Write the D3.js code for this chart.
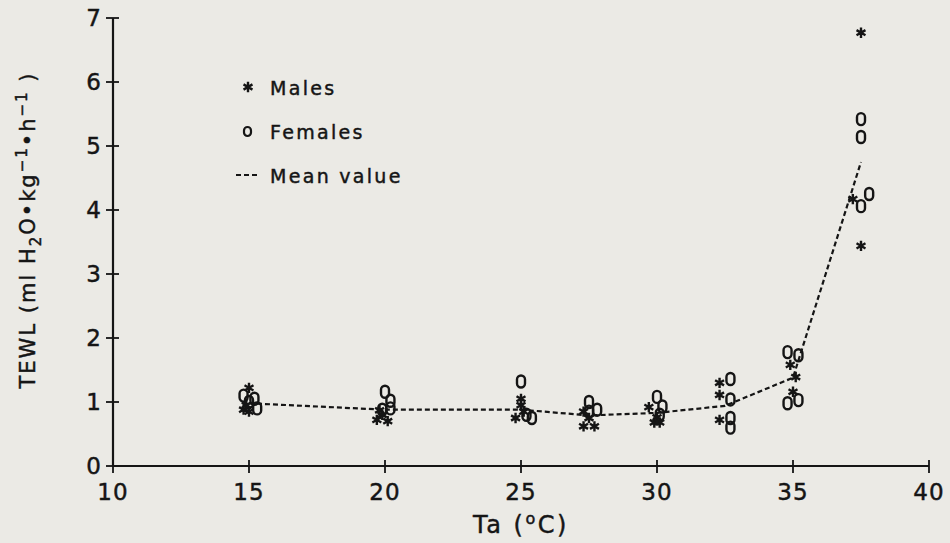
<!DOCTYPE html>
<html>
<head>
<meta charset="utf-8">
<script src="https://cdn.jsdelivr.net/npm/d3@7"></script>
<style>
  html, body { margin: 0; padding: 0; background: #ebeae5; }
  svg { display: block; }
  text { font-family: "DejaVu Sans", "Liberation Sans", sans-serif; fill: #151515; stroke: #151515; stroke-width: 0.45px; }
</style>
</head>
<body>
<svg id="chart" width="950" height="543"></svg>
<script>
// Ambient temperature (°C) and TEWL readings for each animal
const maleTa   = [15.0, 14.8, 15.0, 14.9, 19.8, 19.7, 20.1, 19.9, 25.0, 24.8, 25.0, 25.1,
                  27.3, 27.3, 27.7, 27.5, 29.7, 29.9, 30.1, 30.0, 32.3, 32.3, 32.3,
                  34.9, 35.1, 35.0, 37.5, 37.2, 37.5];
const maleTewl = [1.22, 0.88, 0.85, 0.95, 0.87, 0.72, 0.70, 0.80, 1.05, 0.75, 0.95, 0.85,
                  0.85, 0.62, 0.62, 0.75, 0.92, 0.68, 0.68, 0.76, 1.30, 1.11, 0.72,
                  1.58, 1.39, 1.16, 6.77, 4.17, 3.44];

const femaleTa   = [14.8, 15.0, 15.2, 15.3, 20.0, 20.2, 19.9, 20.2, 25.0, 25.2, 25.4,
                    27.5, 27.8, 27.5, 30.0, 30.2, 30.1, 32.7, 32.7, 32.7, 32.7,
                    34.8, 35.2, 34.8, 35.2, 37.5, 37.5, 37.8, 37.5];
const femaleTewl = [1.10, 1.00, 1.05, 0.90, 1.16, 1.02, 0.88, 0.90, 1.32, 0.80, 0.75,
                    1.00, 0.88, 0.85, 1.08, 0.93, 0.80, 1.36, 1.04, 0.75, 0.60,
                    1.78, 1.73, 0.98, 1.03, 5.42, 5.14, 4.25, 4.06];

// Mean value at each test temperature
const meanTa   = [15, 20, 25, 27.5, 30, 32.5, 35, 37.5];
const meanTewl = [0.98, 0.88, 0.88, 0.79, 0.83, 0.94, 1.38, 4.75];

const xTicks = [10, 15, 20, 25, 30, 35, 40];
const yTicks = [0, 1, 2, 3, 4, 5, 6, 7];

const svg = d3.select("#chart");
const x = d3.scaleLinear().domain([10, 40]).range([113, 929]);
const y = d3.scaleLinear().domain([0, 7]).range([466, 18]);
const ink = "#151515";

// Axes: ticks cross the axis line on both sides
const xAxis = svg.append("g").attr("transform", `translate(0,${y(0)})`);
xAxis.append("line").attr("x1", x(10)).attr("x2", x(40)).attr("stroke", ink).attr("stroke-width", 2.2);
xAxis.selectAll("line.tick").data(xTicks).join("line").attr("class", "tick")
  .attr("x1", d => x(d)).attr("x2", d => x(d)).attr("y1", -6).attr("y2", 7)
  .attr("stroke", ink).attr("stroke-width", 1.8);
xAxis.selectAll("text").data(xTicks).join("text")
  .attr("x", d => x(d)).attr("y", 34).attr("text-anchor", "middle")
  .attr("font-size", 23).attr("letter-spacing", 1).text(d => d);

const yAxis = svg.append("g").attr("transform", `translate(${x(10)},0)`);
yAxis.append("line").attr("y1", y(0)).attr("y2", y(7)).attr("stroke", ink).attr("stroke-width", 2.2);
yAxis.selectAll("line.tick").data(yTicks).join("line").attr("class", "tick")
  .attr("y1", d => y(d)).attr("y2", d => y(d)).attr("x1", -7).attr("x2", 6)
  .attr("stroke", ink).attr("stroke-width", 1.8);
yAxis.selectAll("text").data(yTicks).join("text")
  .attr("x", -12).attr("y", d => y(d) + 8).attr("text-anchor", "end")
  .attr("font-size", 23).text(d => d);

// Axis titles
const xt = svg.append("text").attr("x", 521).attr("y", 533).attr("text-anchor", "middle")
  .attr("font-size", 24).attr("letter-spacing", 2.5);
xt.append("tspan").text("Ta (");
xt.append("tspan").attr("font-size", 16).attr("dy", -9).text("o");
xt.append("tspan").attr("dy", 9).text("C)");

const yt = svg.append("text").attr("transform", "translate(35,230) rotate(-90)")
  .attr("text-anchor", "middle").attr("font-size", 21).attr("letter-spacing", 2);
yt.append("tspan").text("TEWL (ml H");
yt.append("tspan").attr("font-size", 15).attr("dy", 6).text("2");
yt.append("tspan").attr("dy", -6).text("O\u2022kg");
yt.append("tspan").attr("font-size", 15).attr("dy", -8).text("\u22121");
yt.append("tspan").attr("dy", 8).text("\u2022h");
yt.append("tspan").attr("font-size", 15).attr("dy", -8).text("\u22121");
yt.append("tspan").attr("dy", 8).text(" )");

// Mean value line
const line = d3.line().x(d => x(d[0])).y(d => y(d[1]));
svg.append("path").datum(d3.zip(meanTa, meanTewl)).attr("d", line)
  .attr("fill", "none").attr("stroke", ink).attr("stroke-width", 2.2)
  .attr("stroke-dasharray", "5,3");

// Marker makers
const star = d3.symbol().type(d3.symbolAsterisk).size(75);
function drawStar(g, cx, cy) {
  g.append("path").attr("d", star()).attr("transform", `translate(${cx},${cy})`)
    .attr("fill", "none").attr("stroke", ink).attr("stroke-width", 2.4);
}
function drawOval(g, cx, cy) {
  g.append("rect").attr("x", cx - 4).attr("y", cy - 6).attr("width", 8).attr("height", 12)
    .attr("rx", 4).attr("ry", 4).attr("fill", "none").attr("stroke", ink).attr("stroke-width", 2.4);
}

const pts = svg.append("g");
d3.zip(femaleTa, femaleTewl).forEach(d => drawOval(pts, x(d[0]), y(d[1])));
d3.zip(maleTa, maleTewl).forEach(d => drawStar(pts, x(d[0]), y(d[1])));

// Legend
const lg = svg.append("g");
drawStar(lg, 248, 87);
lg.append("text").attr("x", 270).attr("y", 95).attr("font-size", 19).attr("letter-spacing", 2.3).text("Males");
lg.append("rect").attr("x", 244).attr("y", 127).attr("width", 7).attr("height", 9)
  .attr("rx", 3.5).attr("fill", "none").attr("stroke", ink).attr("stroke-width", 2.2);
lg.append("text").attr("x", 270).attr("y", 139).attr("font-size", 19).attr("letter-spacing", 2.3).text("Females");
lg.append("line").attr("x1", 236).attr("x2", 258).attr("y1", 175).attr("y2", 175)
  .attr("stroke", ink).attr("stroke-width", 2.2).attr("stroke-dasharray", "5,3");
lg.append("text").attr("x", 270).attr("y", 183).attr("font-size", 19).attr("letter-spacing", 2.3).text("Mean value");
</script>
</body>
</html>
